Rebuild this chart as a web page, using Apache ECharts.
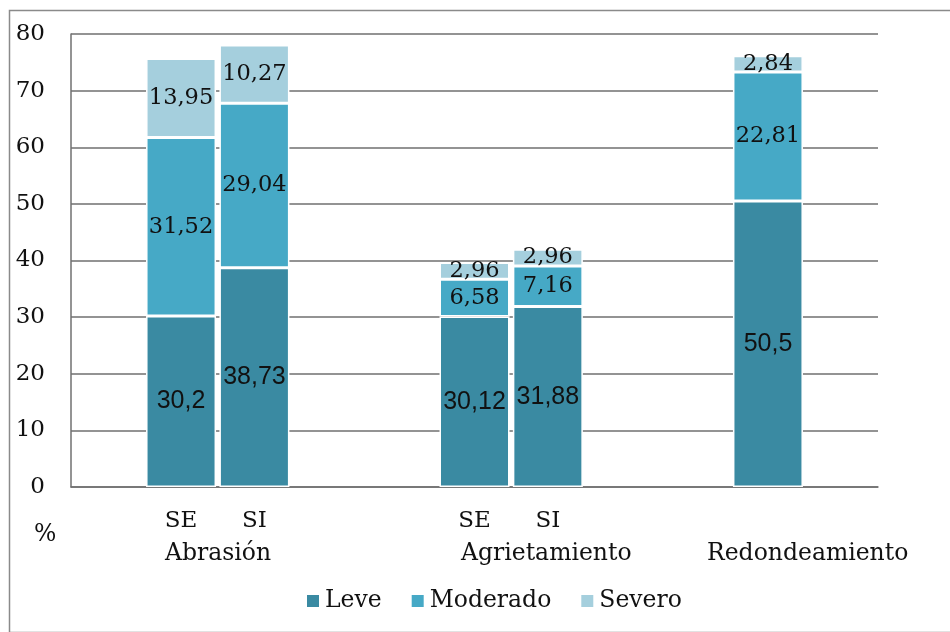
<!DOCTYPE html>
<html>
<head>
    <meta charset="utf-8">
    <title>Abrasión, Agrietamiento, Redondeamiento</title>
    <script src="https://cdn.jsdelivr.net/npm/echarts@6/dist/echarts.min.js"></script>
    <style>
        html, body { margin: 0; padding: 0; background: #fff; }
        #grafico { width: 950px; height: 632px; }
    </style>
</head>
<body>
    <div id="grafico"></div>

    <script>
        // Datos (huecos = posiciones vacías entre grupos)
        const posiciones = ['h0', 'Abrasión SE', 'Abrasión SI', 'h1', 'h2',
            'Agrietamiento SE', 'Agrietamiento SI', 'h3', 'h4', 'Redondeamiento', 'h5'];
        const etiquetas = ['', 'SE', 'SI', '', '', 'SE', 'SI', '', '', '', ''];
        const grupos = ['Abrasión', 'Agrietamiento', 'Redondeamiento'];
        const leve = [null, 30.2, 38.73, null, null, 30.12, 31.88, null, null, 50.5, null];
        const moderado = [null, 31.52, 29.04, null, null, 6.58, 7.16, null, null, 22.81, null];
        const severo = [null, 13.95, 10.27, null, null, 2.96, 2.96, null, null, 2.84, null];
        const marcasY = [0, 10, 20, 30, 40, 50, 60, 70, 80];

        const serif = 'DejaVu Serif';
        const colores = ['#3a8aa2', '#46a9c6', '#a5cfdd'];
        const fuenteTexto = '23.5px "DejaVu Serif"';

        const grafico = echarts.init(document.getElementById('grafico'));

        function etiqueta(fuente, tam) {
            return {
                show: true,
                position: 'inside',
                color: '#111',
                fontFamily: fuente,
                fontSize: tam,
                formatter: p => String(p.value).replace('.', ',')
            };
        }

        function serie(nombre, datos, color, lbl) {
            return {
                name: nombre,
                type: 'bar',
                stack: 'total',
                barWidth: 70,
                data: datos,
                itemStyle: { color: color, borderColor: '#fff', borderWidth: 1.5 },
                label: lbl
            };
        }

        const opciones = {
            animation: false,
            grid: { left: 71, right: 72, top: 34, bottom: 145 },
            xAxis: {
                type: 'category',
                data: posiciones,
                axisLine: { show: true, lineStyle: { color: '#707070', width: 1.5 } },
                axisTick: { show: false },
                axisLabel: {
                    interval: 0,
                    margin: 23,
                    color: '#111',
                    fontFamily: serif,
                    fontSize: 23,
                    formatter: (v, i) => etiquetas[i]
                }
            },
            yAxis: {
                type: 'value',
                min: marcasY[0],
                max: marcasY[marcasY.length - 1],
                interval: 10,
                axisLine: { show: true, lineStyle: { color: '#707070', width: 1.5 } },
                axisTick: { show: false },
                splitLine: { lineStyle: { color: '#6f6f6f', width: 1.5 } },
                axisLabel: {
                    margin: 26,
                    color: '#111',
                    fontFamily: serif,
                    fontSize: 23
                }
            },
            legend: {
                left: 300,
                top: 584,
                icon: 'rect',
                itemWidth: 14,
                itemHeight: 14,
                itemGap: 28,
                textStyle: { fontFamily: serif, fontSize: 23.5, color: '#111' },
                data: ['Leve', 'Moderado', 'Severo']
            },
            series: [
                serie('Leve', leve, colores[0], etiqueta('Liberation Sans', 25)),
                serie('Moderado', moderado, colores[1], etiqueta(serif, 22.5)),
                serie('Severo', severo, colores[2], etiqueta(serif, 22.5))
            ],
            graphic: [
                {
                    type: 'rect', left: 7, top: 8, silent: true,
                    shape: { width: 960, height: 622 },
                    style: { fill: 'none', stroke: '#8a8a8a', lineWidth: 1.5 }
                },
                {
                    type: 'text', left: 34, top: 523,
                    style: { text: '%', font: fuenteTexto, fill: '#111' }
                },
                {
                    type: 'text', left: 165, top: 542,
                    style: { text: grupos[0], font: fuenteTexto, fill: '#111' }
                },
                {
                    type: 'text', left: 461, top: 542,
                    style: { text: grupos[1], font: fuenteTexto, fill: '#111' }
                },
                {
                    type: 'text', left: 707, top: 542,
                    style: { text: grupos[2], font: fuenteTexto, fill: '#111' }
                }
            ]
        };

        grafico.setOption(opciones);
    </script>
</body>
</html>
